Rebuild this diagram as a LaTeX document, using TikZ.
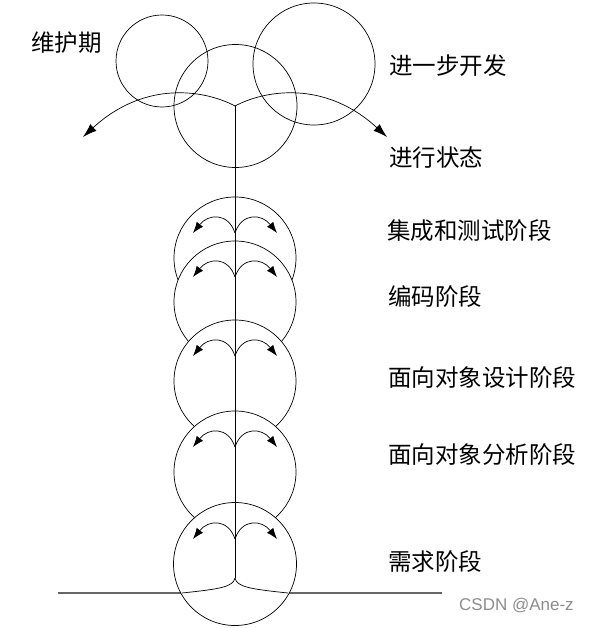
\documentclass[tikz,border=0pt]{standalone}
\usepackage{fontspec}
\newfontfamily\cjk{Noto Sans CJK SC}
\newfontfamily\wmfont{Liberation Sans}
\usetikzlibrary{arrows.meta}
\begin{document}
\begin{tikzpicture}[x=1pt,y=-1pt,
  ring/.style={circle, draw, line width=0.7pt, inner sep=0pt, minimum size=122pt},
  disc/.style={ring, fill=white},
  lbl/.style={anchor=west, inner sep=0pt, font=\cjk\fontsize{23.5}{23.5}\selectfont},
  thin/.style={line width=0.7pt},
  bigarrow/.style={thin, -{Latex[length=14pt,width=9pt]}},
  smallarrow/.style={thin, -{Latex[length=11pt,width=8pt]}},
  ground/.style={line width=1.2pt, draw=black!60},
]
\useasboundingbox (0,0) rectangle (595,628);

% top circles
\node[ring, minimum size=92pt] (maint) at (162,61) {};
\node[ring] (dev) at (314,64) {};
\node[ring, minimum size=123pt] (run) at (235.5,106) {};
\coordinate (hub) at (235,106);
\coordinate (lt) at (83,137);
\coordinate (rt) at (387,137);
\draw[bigarrow] (hub) .. controls (205,90) and (145,80) .. (lt);
\draw[bigarrow] (hub) .. controls (265,90) and (325,80) .. (rt);

% ground line
\coordinate (gl) at (58,593);
\coordinate (gr) at (442,593);
\draw[ground] (gl) -- (gr);

% stacked discs
\node[disc] (s1) at (235,258) {};
\node[disc] (s2) at (235,302) {};
\node[disc] (s3) at (235,381) {};
\node[disc] (s4) at (235,472) {};
\node[disc, minimum size=123pt] (s5) at (235,564) {};

% spine
\coordinate (foot) at (235,578);
\coordinate (fl) at (182,593);
\coordinate (fr) at (288,593);
\draw[thin] (hub) -- (foot);
\draw[thin] (foot) .. controls (233,587) and (220,589) .. (fl);
\draw[thin] (foot) .. controls (237,587) and (250,589) .. (fr);

% small arrows
\foreach \n/\y in {1/258,2/302,3/381,4/472,5/564}{
  \coordinate (h\n) at (235,{\y-25});
  \draw[smallarrow] (h\n) .. controls (228,{\y-46}) and (208,{\y-44}) .. (193,{\y-25});
  \draw[smallarrow] (h\n) .. controls (242,{\y-46}) and (262,{\y-44}) .. (277,{\y-25});
}

% labels
\node[lbl] (t0) at (31,43) {维护期};
\node[lbl] (t1) at (389,66) {进一步开发};
\node[lbl] (t2) at (389,158) {进行状态};
\node[lbl] (t3) at (387,231) {集成和测试阶段};
\node[lbl] (t4) at (388,297) {编码阶段};
\node[lbl] (t5) at (388,378) {面向对象设计阶段};
\node[lbl] (t6) at (388,455) {面向对象分析阶段};
\node[lbl] (t7) at (388,562) {需求阶段};
\node[anchor=west, inner sep=0pt, text=black!45, font=\wmfont\fontsize{17}{17}\selectfont] (wm) at (459,606) {CSDN @Ane-z};
\end{tikzpicture}
\end{document}
